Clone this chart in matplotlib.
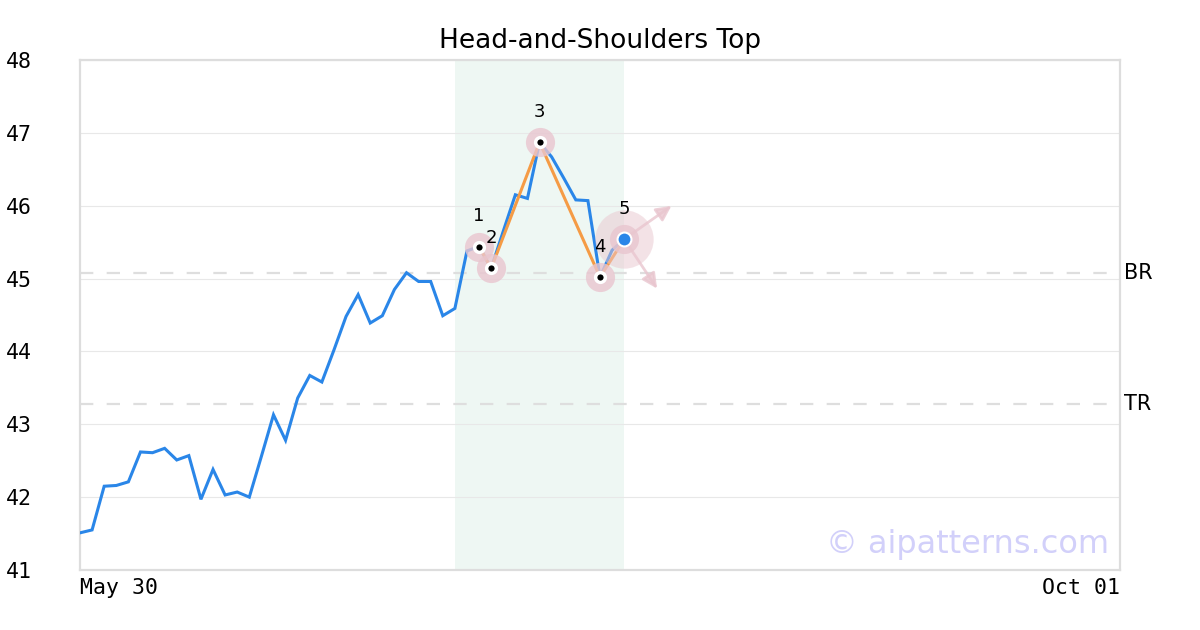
import matplotlib
matplotlib.use("Agg")
import matplotlib.pyplot as plt
import numpy as np

# ---- data ----
prices = [41.51, 41.55, 42.15, 42.16, 42.21, 42.62, 42.61, 42.67, 42.51, 42.57,
          41.97, 42.38, 42.03, 42.07, 42.00, 42.56, 43.13, 42.78, 43.36, 43.67,
          43.58, 44.02, 44.48, 44.78, 44.39, 44.49, 44.85, 45.08, 44.96, 44.96,
          44.49, 44.59, 45.38, 45.44, 45.14, 45.65, 46.15, 46.10, 46.87, 46.67,
          46.38, 46.08, 46.07, 45.02, 45.39, 45.54]
pattern_idx = [33, 34, 38, 43, 45]
pattern_labels = ["1", "2", "3", "4", "5"]
span_range = [31, 45]
br_level = 45.07
tr_level = 43.28
x_total = 86
x_tick_labels = ["May 30", "Oct 01"]
y_ticks = [41, 42, 43, 44, 45, 46, 47, 48]
title = "Head-and-Shoulders Top"
watermark = "\u00a9 aipatterns.com"

BLUE = "#2a86e8"
ORANGE = "#f59b45"
PINK = "#e9c6cf"

fig = plt.figure(figsize=(12, 6.3), dpi=100)
ax = fig.add_axes([80/1200, 1 - 570/630, 1040/1200, 510/630])

x = np.arange(len(prices))
ax.axvspan(span_range[0], span_range[1], color="#eef7f3", zorder=0, lw=0)

for yv in y_ticks:
    ax.axhline(yv, color="#e8e8e8", lw=0.8, zorder=1)

for lvl, lab in [(br_level, "BR"), (tr_level, "TR")]:
    ax.axhline(lvl, color="#dedede", lw=1.6, ls=(0, (6, 6)), zorder=1)
    ax.text(1.004, lvl, lab, transform=ax.get_yaxis_transform(), ha="left",
            va="center", fontsize=15, color="black", fontfamily="DejaVu Sans")

ax.plot(x, prices, color=BLUE, lw=2.2, zorder=3, solid_joinstyle="miter")

px = [x[i] for i in pattern_idx]
py = [prices[i] for i in pattern_idx]
ax.plot(px, py, color=ORANGE, lw=2.2, zorder=4)

# halos
ax.plot(px, py, "o", ms=21, color=PINK, alpha=0.8, mec="none", zorder=5)
ax.plot(px[-1], py[-1], "o", ms=42, color=PINK, alpha=0.5, mec="none", zorder=5)
# arrows from last point
for dx, dy in [(4.1, 0.48), (2.85, -0.71)]:
    ax.annotate("", xy=(px[-1] + dx, py[-1] + dy), xytext=(px[-1], py[-1]),
                arrowprops=dict(arrowstyle="-|>,head_length=0.9,head_width=0.45",
                                color=PINK, lw=2, alpha=0.8), zorder=5)
ax.plot(px[:-1], py[:-1], "o", ms=7, color="black", mec="white", mew=2.5, zorder=6)
ax.plot(px[-1], py[-1], "o", ms=10, color=BLUE, mec="white", mew=1.5, zorder=6)

for xi, yi, lab in zip(px, py, pattern_labels):
    ax.annotate(lab, (xi, yi), xytext=(0, 22), textcoords="offset points",
                ha="center", va="center", fontsize=13, zorder=7)

ax.set_xlim(0, x_total)
ax.set_ylim(y_ticks[0], y_ticks[-1])
ax.set_yticks(y_ticks)
ax.set_yticklabels([str(v) for v in y_ticks], fontfamily="DejaVu Sans Mono", fontsize=15.5)
ax.set_xticks([0, x_total])
ax.set_xticklabels(x_tick_labels, fontfamily="DejaVu Sans Mono", fontsize=15.5)
xl = ax.get_xticklabels()
xl[0].set_ha("left")
xl[1].set_ha("right")
ax.tick_params(axis="y", length=0, pad=35)
ax.tick_params(axis="x", length=0, pad=6)

for s in ax.spines.values():
    s.set_color("#dddddd")
    s.set_linewidth(1.6)

ax.set_title(title, fontsize=19, pad=9)
ax.text(0.99, 0.033, watermark, transform=ax.transAxes, ha="right", va="baseline",
        fontsize=23, color="#d2d0fa", zorder=2)

fig.savefig("out.png", dpi=100)
